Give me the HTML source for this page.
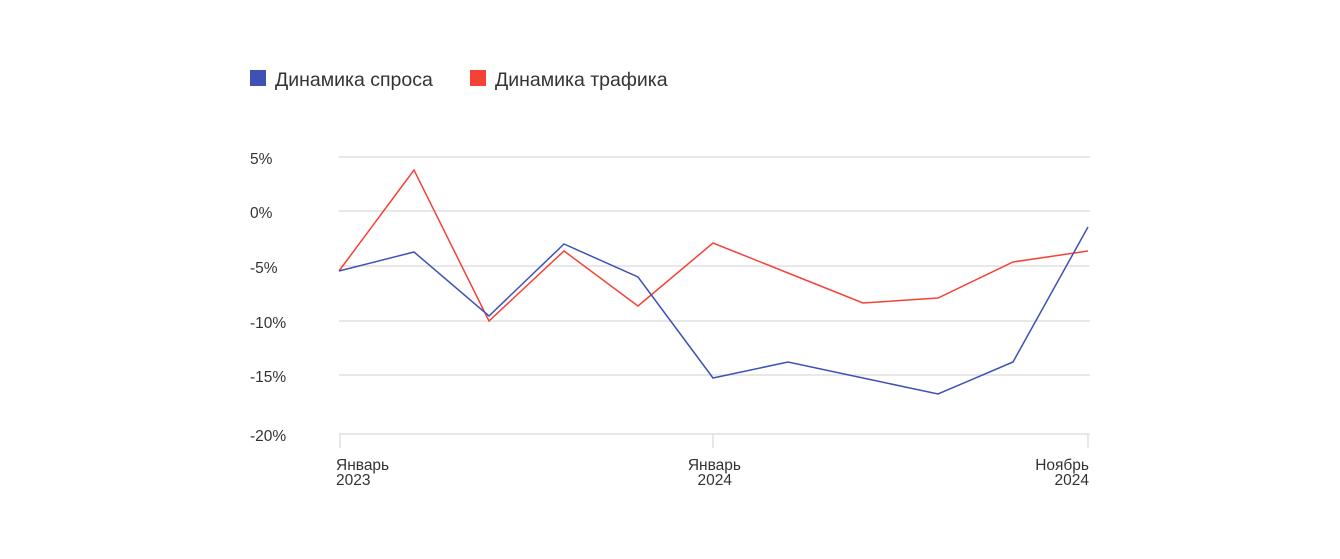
<!DOCTYPE html>
<html><head><meta charset="utf-8"><style>
body{margin:0;background:#fff;}
svg{display:block;font-family:"Liberation Sans",sans-serif;}
</style></head><body>
<svg width="1340" height="559" viewBox="0 0 1340 559">
<rect x="250" y="70" width="16" height="16" fill="#3f51b5"/>
<text x="275" y="86" font-size="19.5" fill="#333">Динамика спроса</text>
<rect x="470" y="70" width="16" height="16" fill="#f44336"/>
<text x="495" y="86" font-size="19.5" fill="#333">Динамика трафика</text>
<g stroke="#e0e0e0" stroke-width="1.5">
<line x1="339" x2="1090" y1="157" y2="157"/>
<line x1="339" x2="1090" y1="211" y2="211"/>
<line x1="339" x2="1090" y1="266" y2="266"/>
<line x1="339" x2="1090" y1="321" y2="321"/>
<line x1="339" x2="1090" y1="375" y2="375"/>
<line x1="339" x2="1090" y1="434" y2="434"/>
<line x1="340" x2="340" y1="434" y2="448"/>
<line x1="713" x2="713" y1="434" y2="448"/>
<line x1="1088" x2="1088" y1="434" y2="448"/>
</g>
<g font-size="15.5" fill="#333" text-anchor="start">
<text x="250" y="164">5%</text>
<text x="250" y="218">0%</text>
<text x="250" y="273">-5%</text>
<text x="250" y="328">-10%</text>
<text x="250" y="382">-15%</text>
<text x="250" y="441">-20%</text>
</g>
<g font-size="15.5" fill="#333">
<text x="336" y="470">Январь</text><text x="336" y="485">2023</text>
<text x="741" y="470" text-anchor="end">Январь</text><text x="732" y="485" text-anchor="end">2024</text>
<text x="1089" y="470" text-anchor="end">Ноябрь</text><text x="1089" y="485" text-anchor="end">2024</text>
</g>
<polyline fill="none" stroke="#f44336" stroke-width="1.5" points="339,271 414,170 489,321 564,251 638,306 713,243 788,273 863,303 938,298 1013,262 1088,251"/>
<polyline fill="none" stroke="#3f51b5" stroke-width="1.5" points="339,271 414,252 489,316 564,244 638,277 713,378 788,362 863,378 938,394 1013,362 1088,227"/>
</svg>
</body></html>
